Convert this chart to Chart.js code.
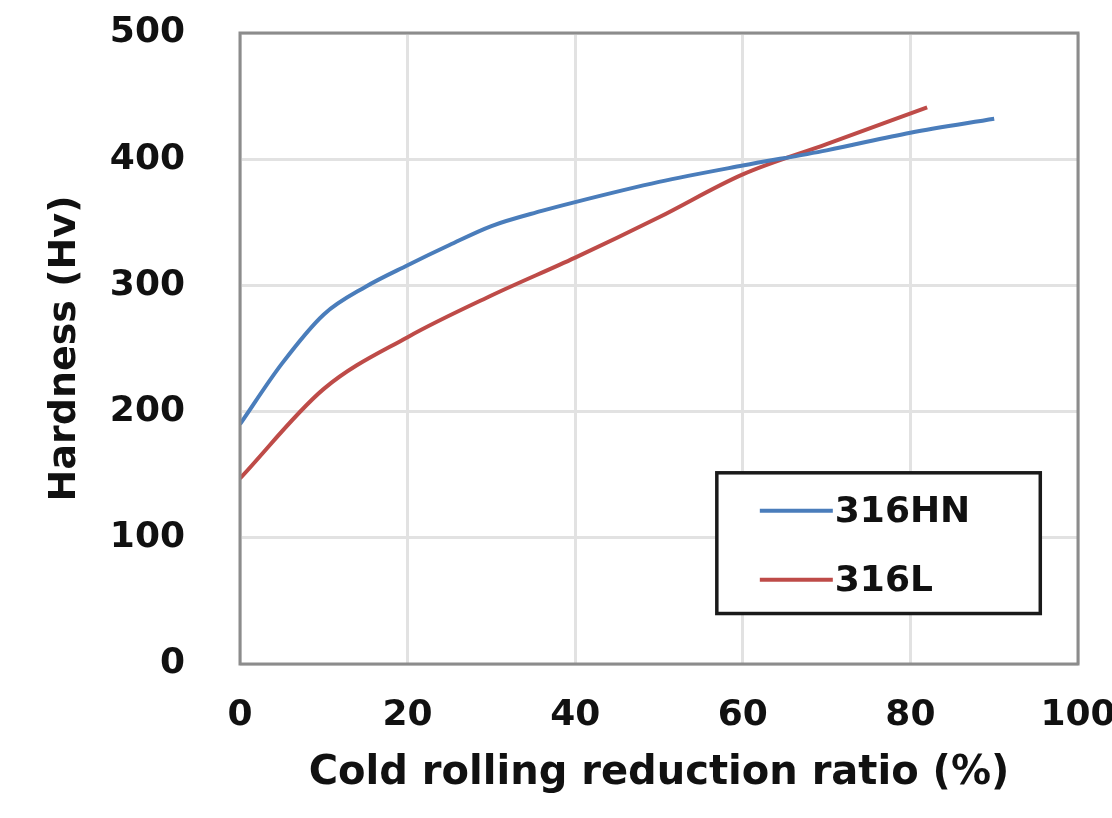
<!DOCTYPE html>
<html>
<head>
<meta charset="utf-8">
<script src="https://cdn.jsdelivr.net/npm/chart.js@4.4.1/dist/chart.umd.min.js"></script>
<style>
  html, body { margin: 0; padding: 0; background: #ffffff; }
  #wrap { width: 1112px; height: 818px; position: relative; }
</style>
</head>
<body>
<div id="wrap"><canvas id="hardness-chart"></canvas></div>
<script>
// values (reduction %, hardness Hv)
const reductionHN = [0, 5, 10, 15, 20, 25, 30, 36, 40, 50, 60, 70, 80, 90];
const hardnessHN = [190, 238, 277, 299, 316, 332, 347, 359, 366, 382, 395, 407, 421, 432];
const reductionL = [0, 10, 20, 30, 40, 50, 60, 70, 82];
const hardnessL = [147, 218, 259, 292, 322, 354, 388, 412, 441];
const xTicks = [0, 20, 40, 60, 80, 100];
const yTicks = [0, 100, 200, 300, 400, 500];
const seriesNames = ['316HN', '316L'];
const seriesColors = ['#4a7dbb', '#be4b48'];

const tickFont = { family: "'DejaVu Sans', sans-serif", size: 36, weight: 'bold' };
const xTitleFont = { family: "'DejaVu Sans', sans-serif", size: 40, weight: 'bold' };
const yTitleFont = { family: "'DejaVu Sans', sans-serif", size: 38, weight: 'bold' };

function toPoints(xs, ys) {
    return xs.map((x, i) => ({ x: x, y: ys[i] }));
}

// frame around the plot and the boxed legend inside it
const frameAndLegend = {
    id: 'frameAndLegend',
    afterDatasetsDraw(chart) {
        const ctx = chart.ctx;
        const a = chart.chartArea;
        ctx.save();
        ctx.strokeStyle = '#8c8c8c';
        ctx.lineWidth = 3;
        ctx.strokeRect(a.left, a.top, a.right - a.left, a.bottom - a.top);

        const w = a.right - a.left, h = a.bottom - a.top;
        const bx = a.left + w * 0.569, by = a.top + h * 0.697;
        const bw = w * 0.386, bh = h * 0.223;
        ctx.fillStyle = '#ffffff';
        ctx.fillRect(bx, by, bw, bh);
        ctx.strokeStyle = '#1a1a1a';
        ctx.lineWidth = 3.5;
        ctx.strokeRect(bx, by, bw, bh);

        ctx.font = "bold 36px 'DejaVu Sans', sans-serif";
        ctx.textBaseline = 'middle';
        ctx.textAlign = 'left';
        chart.data.datasets.forEach((ds, i) => {
            const ly = by + bh * (0.27 + i * 0.49);
            ctx.strokeStyle = ds.borderColor;
            ctx.lineWidth = 4;
            ctx.beginPath();
            ctx.moveTo(bx + 43, ly);
            ctx.lineTo(bx + 116, ly);
            ctx.stroke();
            ctx.fillStyle = '#111111';
            ctx.fillText(ds.label, bx + 118, ly + 2);
        });
        ctx.restore();
    }
};

new Chart(document.getElementById('hardness-chart'), {
    type: 'scatter',
    data: {
        datasets: [{
            label: seriesNames[0],
            data: toPoints(reductionHN, hardnessHN),
            borderColor: seriesColors[0],
            backgroundColor: seriesColors[0],
            showLine: true,
            borderWidth: 4,
            pointRadius: 0,
            cubicInterpolationMode: 'monotone'
        }, {
            label: seriesNames[1],
            data: toPoints(reductionL, hardnessL),
            borderColor: seriesColors[1],
            backgroundColor: seriesColors[1],
            showLine: true,
            borderWidth: 4,
            pointRadius: 0,
            cubicInterpolationMode: 'monotone'
        }]
    },
    options: {
        responsive: true,
        maintainAspectRatio: false,
        animation: false,
        layout: { padding: { top: 33, right: 34, left: 0, bottom: 0 } },
        plugins: {
            legend: { display: false },
            tooltip: { enabled: false }
        },
        scales: {
            x: {
                type: 'linear',
                min: 0,
                max: 100,
                afterBuildTicks: (scale) => { scale.ticks = xTicks.map(v => ({ value: v })); },
                afterFit: (scale) => {
                    scale.height = 818 - 664;
                    scale.paddingLeft = 0;
                    scale.paddingRight = 0;
                },
                grid: { color: '#e2e2e2', lineWidth: 3, drawTicks: false },
                border: { display: false },
                ticks: { color: '#111111', font: tickFont, padding: 30, maxRotation: 0 },
                title: {
                    display: true,
                    text: 'Cold rolling reduction ratio (%)',
                    color: '#111111',
                    font: xTitleFont,
                    padding: { top: 0, bottom: 20 }
                }
            },
            y: {
                type: 'linear',
                min: 0,
                max: 500,
                afterBuildTicks: (scale) => { scale.ticks = yTicks.map(v => ({ value: v })); },
                afterFit: (scale) => {
                    scale.width = 240;
                    scale.paddingTop = 0;
                    scale.paddingBottom = 0;
                },
                grid: { color: '#e2e2e2', lineWidth: 3, drawTicks: false },
                border: { display: false },
                ticks: { color: '#111111', font: tickFont, padding: 55 },
                title: {
                    display: true,
                    text: 'Hardness (Hv)',
                    color: '#111111',
                    font: yTitleFont,
                    padding: { top: 42, bottom: 0 }
                }
            }
        }
    },
    plugins: [frameAndLegend]
});
</script>
</body>
</html>
